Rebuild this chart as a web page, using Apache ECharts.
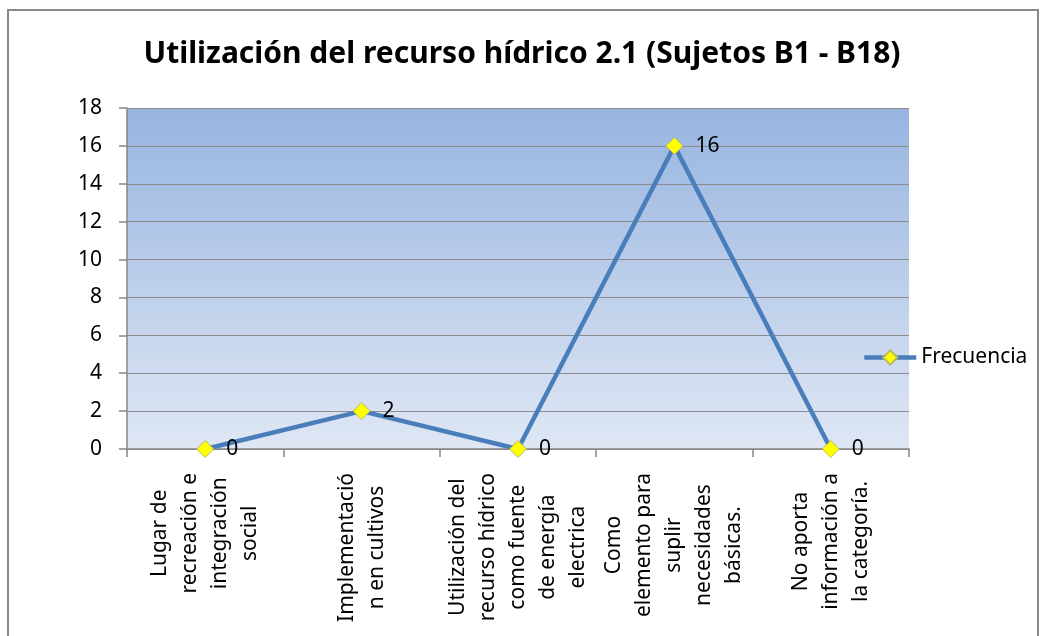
<!DOCTYPE html>
<html>
<head>
<meta charset="utf-8">
<script src="https://cdn.jsdelivr.net/npm/echarts@6/dist/echarts.min.js"></script>
<style>
  html, body { margin: 0; padding: 0; background: #fff; }
  #main { width: 1044px; height: 636px; }
</style>
</head>
<body>
<div id="main"></div>
<script>
// datos del gráfico
var titulo = 'Utilización del recurso hídrico 2.1 (Sujetos B1 - B18)';
var categorias = [
    'Lugar de\nrecreación e\nintegración\nsocial',
    'Implementació\nn en cultivos',
    'Utilización del\nrecurso hídrico\ncomo fuente\nde energía\nelectrica',
    'Como\nelemento para\nsuplir\nnecesidades\nbásicas.',
    'No aporta\ninformación a\nla categoría.'
];
var nombreSerie = 'Frecuencia';
var frecuencia = [0, 2, 0, 16, 0];
var yMin = 0, yMax = 18, yPaso = 2;

var fuente = '"Noto Sans", "Open Sans", sans-serif';

var myChart = echarts.init(document.getElementById('main'));
myChart.setOption({
    animation: false,
    backgroundColor: '#ffffff',
    title: {
        text: titulo,
        left: 'center',
        top: 34,
        textStyle: { fontFamily: fuente, fontSize: 30, fontWeight: 'bold', color: '#000' }
    },
    graphic: [{
        type: 'rect',
        shape: { x: 8, y: 10, width: 1030, height: 700 },
        style: { fill: 'none', stroke: '#8a8a8a', lineWidth: 2 },
        silent: true
    }],
    legend: {
        data: [nombreSerie],
        left: 857,
        top: 342,
        itemWidth: 52,
        itemHeight: 18,
        lineStyle: { width: 4.5 },
        textStyle: { fontFamily: fuente, fontSize: 21, color: '#000' }
    },
    grid: {
        left: 127, right: 135, top: 108, bottom: 187,
        show: true,
        borderWidth: 0,
        // degradado del área de trazado
        backgroundColor: new echarts.graphic.LinearGradient(0, 0, 0, 1, [
            { offset: 0, color: '#97b4e0' },
            { offset: 1, color: '#dfe7f4' }
        ])
    },
    xAxis: {
        type: 'category',
        data: categorias,
        axisLine: { lineStyle: { color: '#868686', width: 1.5 } },
        axisTick: { show: true, length: 8, lineStyle: { color: '#868686', width: 1.5 } },
        axisLabel: {
            interval: 0,
            rotate: 90,
            margin: 24,
            formatter: function (v) {
                return v.split('\n').map(function (l) { return '{c|' + l + '}'; }).join('\n');
            },
            rich: {
                c: { align: 'center', fontFamily: fuente, fontSize: 21, lineHeight: 30, color: '#000' }
            }
        }
    },
    yAxis: {
        type: 'value',
        min: yMin,
        max: yMax,
        interval: yPaso,
        axisLine: { show: true, lineStyle: { color: '#868686', width: 1.5 } },
        axisTick: { show: true, length: 8, lineStyle: { color: '#868686', width: 1.5 } },
        axisLabel: { margin: 25, fontFamily: fuente, fontSize: 21, color: '#000' },
        splitLine: { show: true, lineStyle: { color: '#8c8c8c', width: 1 } }
    },
    series: [{
        name: nombreSerie,
        type: 'line',
        data: frecuencia,
        symbol: 'diamond',
        symbolSize: 17,
        itemStyle: { color: '#ffff00', borderColor: '#b8b860', borderWidth: 1 },
        lineStyle: { color: '#4a7ebb', width: 4.5 },
        label: {
            show: true,
            position: 'right',
            distance: 12,
            fontFamily: fuente,
            fontSize: 21,
            color: '#000'
        }
    }]
});
</script>
</body>
</html>
